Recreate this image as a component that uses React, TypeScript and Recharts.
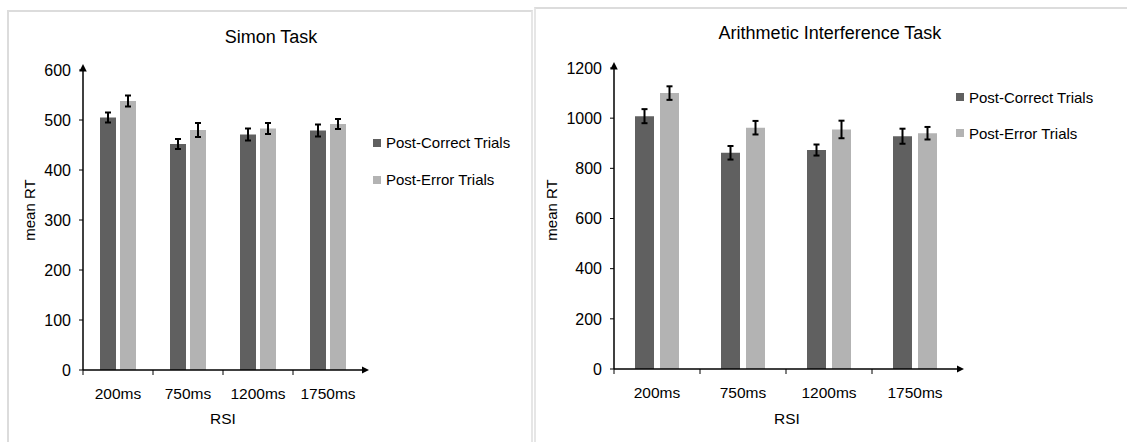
import { BarChart, Bar, XAxis, YAxis, ErrorBar, Legend } from 'recharts'

const categories = ['200ms', '750ms', '1200ms', '1750ms']

const simonCorrect = [505, 452, 471, 479]
const simonCorrectErr = [10, 10, 12, 12]
const simonError = [538, 480, 483, 492]
const simonErrorErr = [11, 14, 11, 10]
const simonTicks = [0, 100, 200, 300, 400, 500, 600]

const arithCorrect = [1008, 862, 873, 928]
const arithCorrectErr = [28, 27, 22, 30]
const arithError = [1100, 962, 955, 940]
const arithErrorErr = [27, 27, 35, 25]
const arithTicks = [0, 200, 400, 600, 800, 1000, 1200]

const seriesNames = ['Post-Correct Trials', 'Post-Error Trials']
const DARK = '#606060'
const LIGHT = '#b3b3b3'
const FONT = '"Liberation Sans", Arial, sans-serif'

const buildRows = (a: number[], aErr: number[], b: number[], bErr: number[]) =>
  categories.map((c, i) => ({
    rsi: c,
    correct: a[i],
    correctErr: aErr[i],
    error: b[i],
    errorErr: bErr[i],
  }))

const simonData = buildRows(simonCorrect, simonCorrectErr, simonError, simonErrorErr)
const arithData = buildRows(arithCorrect, arithCorrectErr, arithError, arithErrorErr)

// x tick: label at category centre, small tick mark at the left category boundary
function makeTick(half: number) {
  return (props: any) => {
    const { x, y, payload } = props
    return (
      <g>
        <line x1={x - half} y1={y} x2={x - half} y2={y + 5} stroke="#000" strokeWidth={1} />
        <text x={x} y={y + 29} textAnchor="middle" fontSize={15.5} fill="#000" fontFamily={FONT}>
          {payload.value}
        </text>
      </g>
    )
  }
}

function LegendBox({ rowHeight }: { rowHeight: number }) {
  const colors = [DARK, LIGHT]
  return (
    <div style={{ fontFamily: FONT, fontSize: 15, color: '#000' }}>
      {seriesNames.map((n, i) => (
        <div key={n} style={{ display: 'flex', alignItems: 'center', height: rowHeight, whiteSpace: 'nowrap' }}>
          <span style={{ display: 'inline-block', width: 8, height: 8, background: colors[i], marginRight: 5 }} />
          {n}
        </div>
      ))}
    </div>
  )
}

interface PanelProps {
  data: any[]
  ticks: number[]
  max: number
  width: number
  margin: { top: number; right: number; bottom: number; left: number }
  yAxisWidth: number
  barSize: number
  barGap: number
  half: number
  title: string
  titleX: number
  titleY: number
  yLabelX: number
  xLabelX: number
  legendLeft: number
  legendTop: number
  legendRow: number
}

function Panel(p: PanelProps) {
  return (
    <BarChart
      width={p.width}
      height={442}
      data={p.data}
      margin={p.margin}
      barSize={p.barSize}
      barGap={p.barGap}
      style={{ fontFamily: FONT }}
    >
      <XAxis
        dataKey="rsi"
        height={40}
        tickSize={0}
        tickMargin={0}
        tickLine={false}
        axisLine={{ stroke: '#000', strokeWidth: 1.5, markerEnd: 'url(#axisArrow)' }}
        tick={makeTick(p.half)}
        interval={0}
      />
      <YAxis
        width={p.yAxisWidth}
        domain={[0, p.max]}
        ticks={p.ticks}
        tickSize={4}
        tickMargin={8}
        tickLine={{ stroke: '#000' }}
        axisLine={{ stroke: '#000', strokeWidth: 1.5, markerStart: 'url(#axisArrow)' }}
        tick={{ fontSize: 16, fill: '#000', fontFamily: FONT }}
        interval={0}
      />
      <Legend
        layout="vertical"
        align="center"
        verticalAlign="middle"
        wrapperStyle={{ left: p.legendLeft, top: p.legendTop, width: 'auto' }}
        content={() => <LegendBox rowHeight={p.legendRow} />}
      />
      <Bar dataKey="correct" name={seriesNames[0]} fill={DARK} isAnimationActive={false}>
        <ErrorBar dataKey="correctErr" width={3} stroke="#000" strokeWidth={2} />
      </Bar>
      <Bar dataKey="error" name={seriesNames[1]} fill={LIGHT} isAnimationActive={false}>
        <ErrorBar dataKey="errorErr" width={3} stroke="#000" strokeWidth={2} />
      </Bar>
      <text x={p.titleX} y={p.titleY} textAnchor="middle" fontSize={18} fill="#000" fontFamily={FONT}>
        {p.title}
      </text>
      <text
        x={p.yLabelX}
        y={210}
        transform={`rotate(-90 ${p.yLabelX} 210)`}
        textAnchor="middle"
        fontSize={15}
        fill="#000"
        fontFamily={FONT}
      >
        mean RT
      </text>
      <text x={p.xLabelX} y={424} textAnchor="middle" fontSize={15.5} fill="#000" fontFamily={FONT}>
        RSI
      </text>
    </BarChart>
  )
}

export default function App() {
  return (
    <div style={{ position: 'absolute', left: 0, top: 0, width: 1127, height: 442, background: '#fff', overflow: 'hidden' }}>
      <svg width={0} height={0} style={{ position: 'absolute' }}>
        <defs>
          <marker id="axisArrow" viewBox="0 0 10 10" refX="2" refY="5" markerWidth="5" markerHeight="5" orient="auto-start-reverse">
            <path d="M0,0 L10,5 L0,10 z" fill="#000" />
          </marker>
        </defs>
      </svg>
      <div style={{ position: 'absolute', left: 7, top: 10, width: 522, height: 440, borderLeft: '2px solid #dcdcdc', borderTop: '2px solid #dcdcdc', borderRight: '2px solid #e6e6e6' }} />
      <div style={{ position: 'absolute', left: 534, top: 7, width: 600, height: 440, borderLeft: '2px solid #e6e6e6', borderTop: '2px solid #dcdcdc' }} />
      <div style={{ position: 'absolute', left: 0, top: 0 }}>
        <Panel
          data={simonData}
          ticks={simonTicks}
          max={600}
          width={531}
          margin={{ top: 70, right: 168, bottom: 32, left: 39 }}
          yAxisWidth={44}
          barSize={16}
          barGap={4}
          half={35}
          title="Simon Task"
          titleX={271}
          titleY={43}
          yLabelX={35}
          xLabelX={223}
          legendLeft={373}
          legendTop={124}
          legendRow={37}
        />
      </div>
      <div style={{ position: 'absolute', left: 534, top: 0 }}>
        <Panel
          data={arithData}
          ticks={arithTicks}
          max={1200}
          width={593}
          margin={{ top: 68, right: 169, bottom: 33, left: 30 }}
          yAxisWidth={50}
          barSize={19}
          barGap={6}
          half={43}
          title="Arithmetic Interference Task"
          titleX={296}
          titleY={39}
          yLabelX={23}
          xLabelX={253}
          legendLeft={422}
          legendTop={79}
          legendRow={36}
        />
      </div>
    </div>
  )
}
